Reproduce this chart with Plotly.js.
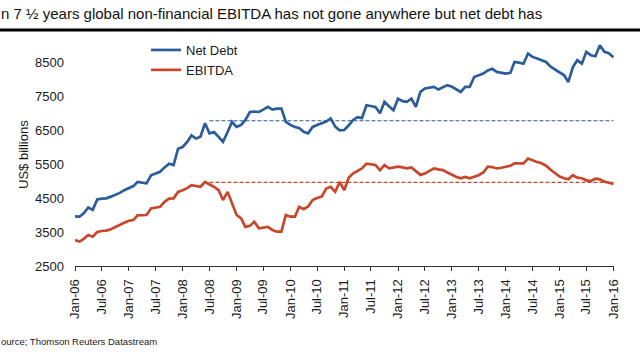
<!DOCTYPE html>
<html>
<head>
<meta charset="utf-8">
<script src="https://cdn.plot.ly/plotly-3.0.1.min.js"></script>
<style>
  html, body { margin: 0; padding: 0; background: #ffffff; }
  #chart { width: 640px; height: 360px; }
</style>
</head>
<body>
<div id="chart"></div>
<script>
// ---- Data, monthly, Jan-2006 .. Jan-2016 ----
var startYear = 2006;
var netDebt = [
  3960, 3950, 4050, 4220, 4150, 4460, 4480, 4490, 4540, 4590, 4650, 4730,
  4780, 4850, 4970, 4940, 4930, 5170, 5210, 5270, 5400, 5510, 5470, 5950,
  6000, 6150, 6340, 6250, 6300, 6700, 6400, 6440, 6300, 6150, 6440, 6740,
  6590, 6650, 6790, 7030, 7040, 7030, 7100, 7180, 7100, 7130, 7130, 6740,
  6650, 6590, 6560, 6450, 6400, 6590, 6650, 6690, 6750, 6840, 6600, 6490,
  6500, 6640, 6790, 6880, 6850, 7230, 7200, 7180, 6990, 7330, 7200, 7080,
  7420, 7350, 7330, 7420, 7180, 7620, 7720, 7740, 7770, 7690, 7750, 7820,
  7770, 7700, 7620, 7770, 7770, 8060, 8110, 8160, 8250, 8300, 8210, 8180,
  8160, 8180, 8500, 8480, 8450, 8750, 8650, 8600, 8550, 8500, 8360, 8280,
  8200, 8110, 7910, 8350, 8550, 8450, 8800, 8700, 8670, 8990, 8800, 8760,
  8640
];
var ebitda = [
  3260, 3220, 3300, 3410, 3360, 3500, 3530, 3540, 3580, 3650, 3700, 3770,
  3830, 3850, 3990, 4000, 4000, 4190, 4210, 4240, 4390, 4480, 4490, 4680,
  4730, 4790, 4880, 4850, 4830, 4970, 4900, 4830, 4730, 4440, 4680, 4340,
  4000, 3900, 3650, 3680, 3800, 3610, 3630, 3650, 3560, 3510, 3510, 4000,
  3950, 3950, 4240, 4170, 4250, 4440, 4500, 4540, 4780, 4830, 4680, 4970,
  4730, 5100, 5220, 5300, 5370, 5510, 5500, 5470, 5320, 5470, 5370, 5400,
  5420, 5400, 5370, 5400, 5300, 5180, 5220, 5300, 5370, 5340, 5320, 5250,
  5180, 5120, 5080, 5120, 5080, 5130, 5170, 5250, 5420, 5410, 5370, 5390,
  5420, 5450, 5520, 5510, 5520, 5660, 5600, 5560, 5520, 5450, 5330, 5220,
  5130, 5080, 5050, 5170, 5100, 5080, 5020, 5000, 5070, 5050, 4980, 4950,
  4910
];
// Reference (dashed) levels: mid-2008 levels carried forward
var refDates = ["2008-07-01", "2016-01-01"];
var netDebtRef = [6770, 6770];
var ebitdaRef = [4960, 4960];

var tickDates = [];
var tickLabels = [
  "Jan-06","Jul-06","Jan-07","Jul-07","Jan-08","Jul-08","Jan-09","Jul-09","Jan-10","Jul-10",
  "Jan-11","Jul-11","Jan-12","Jul-12","Jan-13","Jul-13","Jan-14","Jul-14","Jan-15","Jul-15","Jan-16"
];
var yTicks = [2500, 3500, 4500, 5500, 6500, 7500, 8500];

var titleText = "n 7 \u00bd years global non-financial EBITDA has not gone anywhere but net debt has";
var yTitleText = "US$ billions";
var sourceText = "ource; Thomson Reuters Datastream";

// ---- Build dates ----
function pad(n) { return (n < 10 ? "0" : "") + n; }
var dates = [];
for (var i = 0; i < netDebt.length; i++) {
  var y = startYear + Math.floor(i / 12);
  var m = (i % 12) + 1;
  dates.push(y + "-" + pad(m) + "-01");
}
for (var k = 0; k < tickLabels.length; k++) {
  var yy = startYear + Math.floor(k / 2);
  tickDates.push(yy + (k % 2 === 0 ? "-01-01" : "-07-01"));
}

var BLUE = "#2b5d9b";
var RED = "#c8472a";
var FONT = "Liberation Sans, Arial, sans-serif";

var W = 640, H = 360;
var M = { l: 75, r: 26, t: 28, b: 94 };
var PW = W - M.l - M.r, PH = H - M.t - M.b;
function px(x) { return (x - M.l) / PW; }
function py(y) { return (H - M.b - y) / PH; }

var traces = [
  { x: dates, y: netDebt, type: "scatter", mode: "lines", name: "Net Debt",
    line: { color: BLUE, width: 2.7 } },
  { x: dates, y: ebitda, type: "scatter", mode: "lines", name: "EBITDA",
    line: { color: RED, width: 2.7 } },
  { x: refDates, y: netDebtRef, type: "scatter", mode: "lines", showlegend: false,
    hoverinfo: "skip", line: { color: BLUE, width: 1.1, dash: "4px,2px" } },
  { x: refDates, y: ebitdaRef, type: "scatter", mode: "lines", showlegend: false,
    hoverinfo: "skip", line: { color: RED, width: 1.1, dash: "4px,2px" } }
];

var layout = {
  width: W, height: H,
  margin: M,
  paper_bgcolor: "#ffffff",
  plot_bgcolor: "#ffffff",
  font: { family: FONT, color: "#1a1a1a", size: 13 },
  showlegend: true,
  legend: {
    x: px(146), y: py(35), xanchor: "left", yanchor: "top",
    bgcolor: "rgba(0,0,0,0)", font: { family: FONT, size: 13, color: "#1a1a1a" },
    tracegroupgap: 0
  },
  xaxis: {
    type: "date",
    range: ["2006-01-01", "2016-01-05"],
    tickvals: tickDates, ticktext: tickLabels,
    tickangle: -90,
    tickfont: { family: FONT, size: 13, color: "#1a1a1a" },
    ticklabelstandoff: 3,
    showline: true, linecolor: "#333333", linewidth: 1,
    ticks: "outside", ticklen: 4, tickcolor: "#333333",
    showgrid: false, zeroline: false, fixedrange: true
  },
  yaxis: {
    range: [2500, 9500],
    tickvals: yTicks,
    tickfont: { family: FONT, size: 13, color: "#1a1a1a" },
    showline: false, showgrid: false, zeroline: false, ticks: "",
    ticklabelstandoff: 10,
    fixedrange: true
  },
  shapes: [
    { type: "line", xref: "paper", yref: "paper", x0: px(0), x1: px(640), y0: py(30), y1: py(30),
      line: { color: "#000000", width: 3 } }
  ],
  annotations: [
    { text: titleText, xref: "paper", yref: "paper", x: px(-1), y: py(14), xanchor: "left", yanchor: "middle",
      showarrow: false, font: { family: FONT, size: 15, color: "#111111" } },
    { text: yTitleText, xref: "paper", yref: "paper", x: px(23), y: py(155), xanchor: "center", yanchor: "middle",
      textangle: -90, showarrow: false, font: { family: FONT, size: 13, color: "#1a1a1a" } },
    { text: sourceText, xref: "paper", yref: "paper", x: px(-1), y: py(341), xanchor: "left", yanchor: "middle",
      showarrow: false, font: { family: FONT, size: 9.5, color: "#1a1a1a" } }
  ]
};

Plotly.newPlot("chart", traces, layout, { displayModeBar: false, staticPlot: true });
</script>
</body>
</html>
